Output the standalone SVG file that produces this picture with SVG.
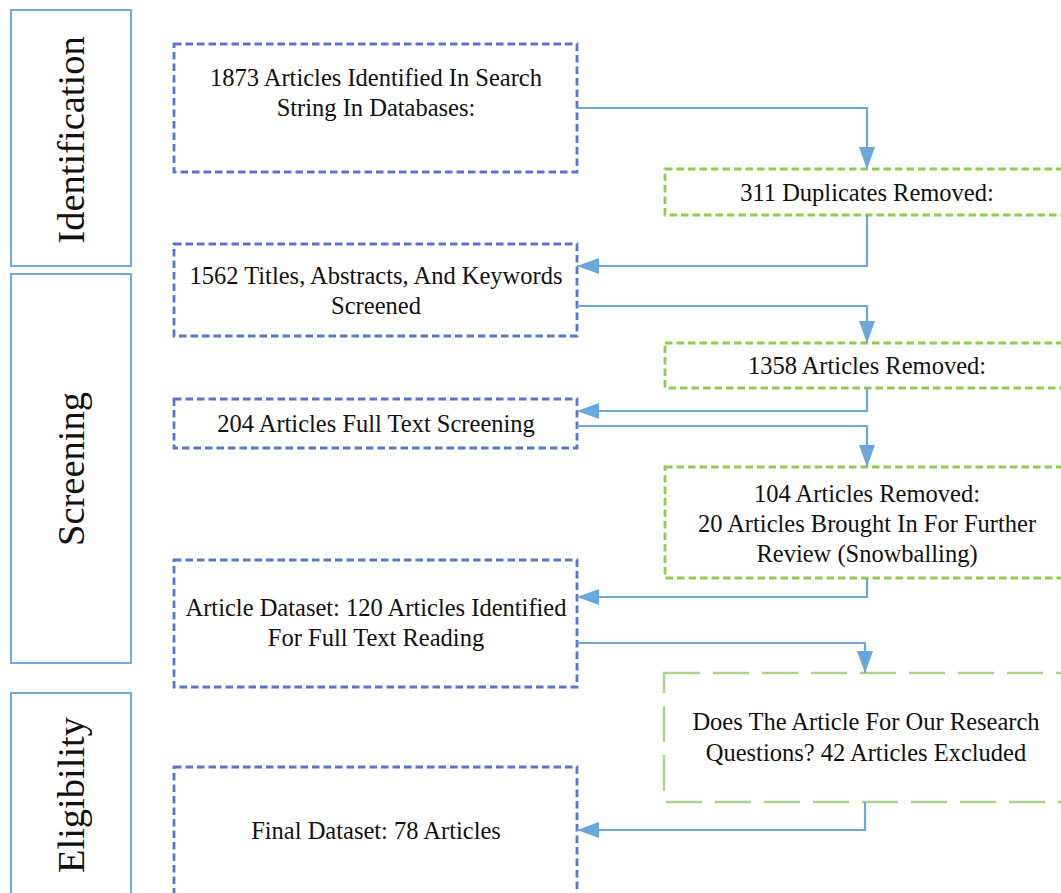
<svg xmlns="http://www.w3.org/2000/svg" width="1061" height="893" viewBox="0 0 1061 893">
  <style>
    .stage { fill: #ffffff; stroke: #72aade; stroke-width: 2; }
    .step { fill: #ffffff; stroke: #5a74d4; stroke-width: 2.8; stroke-dasharray: 7.5 4; }
    .drop { fill: #ffffff; stroke: #92cc4c; stroke-width: 2.8; stroke-dasharray: 7.5 4; }
    .drop-long { fill: #ffffff; stroke: #a9d48a; stroke-width: 2.4; stroke-dasharray: 36 13; }
    .label { font-family: "Liberation Serif", "Times New Roman", serif; font-size: 24.5px; fill: #111111; text-anchor: middle; }
    .stage-label { font-family: "Liberation Serif", "Times New Roman", serif; font-size: 38.5px; fill: #111111; text-anchor: middle; }
    .flow { fill: none; stroke: #6aa8dc; stroke-width: 2.2; marker-end: url(#head); }
  </style>
  <defs>
    <marker id="head" markerUnits="userSpaceOnUse" markerWidth="24" markerHeight="16" refX="22" refY="8" orient="auto">
      <path d="M0,0 L22,8 L0,16 Z" fill="#6aa8dc"/>
    </marker>
  </defs>
  <rect width="1061" height="893" fill="#ffffff"/>

  <!-- phase columns -->
  <g id="phase-identification">
    <rect class="stage" x="11" y="10" width="120" height="256"/>
    <text class="stage-label" transform="translate(84,140) rotate(-90)">Identification</text>
  </g>
  <g id="phase-screening">
    <rect class="stage" x="11" y="274" width="120" height="389"/>
    <text class="stage-label" transform="translate(84,469) rotate(-90)">Screening</text>
  </g>
  <g id="phase-eligibility">
    <rect class="stage" x="11" y="693" width="120" height="220"/>
    <text class="stage-label" transform="translate(84,795) rotate(-90)">Eligibility</text>
  </g>

  <!-- main flow steps -->
  <g id="step-identified">
    <rect class="step" x="174" y="44" width="403" height="128"/>
    <text class="label" x="376" y="86">1873 Articles Identified In Search</text>
    <text class="label" x="376" y="116">String In Databases:</text>
  </g>
  <g id="step-screened">
    <rect class="step" x="174" y="244" width="403" height="92"/>
    <text class="label" x="376" y="284">1562 Titles, Abstracts, And Keywords</text>
    <text class="label" x="376" y="314">Screened</text>
  </g>
  <g id="step-fulltext">
    <rect class="step" x="174" y="399" width="403" height="49"/>
    <text class="label" x="376" y="432">204 Articles Full Text Screening</text>
  </g>
  <g id="step-dataset">
    <rect class="step" x="174" y="560" width="403" height="127"/>
    <text class="label" x="376" y="616">Article Dataset: 120 Articles Identified</text>
    <text class="label" x="376" y="646">For Full Text Reading</text>
  </g>
  <g id="step-final">
    <rect class="step" x="174" y="767" width="403" height="150"/>
    <text class="label" x="376" y="839">Final Dataset: 78 Articles</text>
  </g>

  <!-- exclusions -->
  <g id="drop-duplicates">
    <rect class="drop" x="665" y="169" width="420" height="46"/>
    <text class="label" x="867" y="201">311 Duplicates Removed:</text>
  </g>
  <g id="drop-screening">
    <rect class="drop" x="665" y="343" width="420" height="45"/>
    <text class="label" x="867" y="374">1358 Articles Removed:</text>
  </g>
  <g id="drop-fulltext">
    <rect class="drop" x="665" y="467" width="420" height="111"/>
    <text class="label" x="867" y="502">104 Articles Removed:</text>
    <text class="label" x="867" y="532">20 Articles Brought In For Further</text>
    <text class="label" x="867" y="562">Review (Snowballing)</text>
  </g>
  <g id="drop-eligibility">
    <rect class="drop-long" x="664" y="673" width="420" height="129"/>
    <text class="label" x="866" y="730">Does The Article For Our Research</text>
    <text class="label" x="866" y="761">Questions? 42 Articles Excluded</text>
  </g>

  <!-- connectors -->
  <g id="connectors">
    <path class="flow" d="M577,108 H867 V169"/>
    <path class="flow" d="M867,215 V266 H577"/>
    <path class="flow" d="M577,306 H867 V343"/>
    <path class="flow" d="M867,388 V411 H577"/>
    <path class="flow" d="M577,426 H867 V467"/>
    <path class="flow" d="M867,578 V597 H577"/>
    <path class="flow" d="M577,643 H865 V673"/>
    <path class="flow" d="M865,802 V830 H577"/>
  </g>
</svg>
